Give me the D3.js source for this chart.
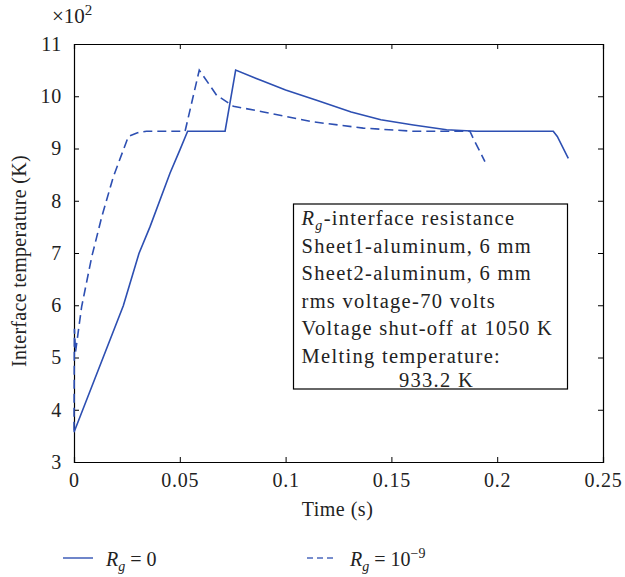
<!DOCTYPE html>
<html>
<head>
<meta charset="utf-8">
<script src="https://cdn.jsdelivr.net/npm/d3@7"></script>
<style>
  body { margin: 0; background: #fff; }
  svg { font-family: "Liberation Serif", "DejaVu Serif", serif; }
</style>
</head>
<body>
<svg id="chart" width="625" height="577"></svg>
<script>
// Data (temperature in units of 10^2 K)
const tSolid = [0, 0.0233, 0.0307, 0.0359, 0.0454, 0.05, 0.0537, 0.0714, 0.0764, 0.088, 0.1, 0.115, 0.131, 0.145, 0.1604, 0.1761, 0.19, 0.2265, 0.2284, 0.2336];
const tempSolid = [3.57, 5.99, 6.99, 7.5, 8.53, 8.97, 9.33, 9.33, 10.5, 10.31, 10.12, 9.92, 9.7, 9.55, 9.45, 9.36, 9.33, 9.33, 9.23, 8.81];

const tDashed = [0, 0.0002, 0.0007, 0.0036, 0.0084, 0.0131, 0.0186, 0.0233, 0.0257, 0.03, 0.0343, 0.0525, 0.0592, 0.0674, 0.0753, 0.0895, 0.113, 0.1367, 0.1604, 0.1871, 0.1887, 0.1942];
const tempDashed = [3.6, 5.55, 5.1, 5.97, 6.93, 7.69, 8.46, 8.97, 9.23, 9.3, 9.33, 9.33, 10.5, 10.02, 9.81, 9.7, 9.51, 9.39, 9.33, 9.33, 9.19, 8.75];

const xTicks = [0, 0.05, 0.1, 0.15, 0.2, 0.25];
const yTicks = [3, 4, 5, 6, 7, 8, 9, 10, 11];

const infoLines = ["Sheet1-aluminum, 6 mm", "Sheet2-aluminum, 6 mm",
                   "rms voltage-70 volts", "Voltage shut-off at 1050 K", "Melting temperature:"];
const infoLast = "933.2 K";

const svg = d3.select("#chart");
const margin = { top: 44, right: 22, bottom: 115, left: 74 };
const width = 625 - margin.left - margin.right;
const height = 577 - margin.top - margin.bottom;
const lineColor = "#2d4fb2";
const textColor = "#222";
const fs = 20;

const g = svg.append("g").attr("transform", `translate(${margin.left},${margin.top})`);

const x = d3.scaleLinear().domain([0, 0.25]).range([0, width]);
const y = d3.scaleLinear().domain([3, 11]).range([height, 0]);

// axes, ticks pointing inward on all four sides
const fmtX = d => d === 0 ? "0" : String(d);
g.append("g").attr("transform", `translate(0,${height})`)
    .call(d3.axisBottom(x).tickValues(xTicks).tickSize(-5).tickPadding(11).tickFormat(fmtX));
g.append("g").call(d3.axisTop(x).tickValues(xTicks).tickSize(-5).tickFormat(""));
g.append("g").call(d3.axisLeft(y).tickValues(yTicks).tickSize(-5).tickPadding(12));
g.append("g").attr("transform", `translate(${width},0)`)
    .call(d3.axisRight(y).tickValues(yTicks).tickSize(-5).tickFormat(""));

g.selectAll(".domain").attr("stroke", "#000").attr("stroke-width", 1.2);
g.selectAll(".tick line").attr("stroke", "#000");
g.selectAll(".tick text").attr("font-size", fs).attr("fill", textColor)
    .attr("letter-spacing", 0.8)
    .attr("font-family", "Liberation Serif, DejaVu Serif, serif");

// x10^2 multiplier
const mult = svg.append("text").attr("x", 52).attr("y", 23).attr("font-size", 21).attr("fill", textColor);
mult.append("tspan").text("×10");
mult.append("tspan").attr("font-size", 15).attr("dy", -8).text("2");

// axis titles
svg.append("text")
    .attr("x", margin.left + width / 2 - 1).attr("y", 516)
    .attr("text-anchor", "middle").attr("font-size", fs).attr("fill", textColor)
    .attr("letter-spacing", 0.5)
    .text("Time (s)");
svg.append("text")
    .attr("transform", "rotate(-90)")
    .attr("x", -261).attr("y", 26)
    .attr("text-anchor", "middle").attr("font-size", fs).attr("fill", textColor)
    .attr("letter-spacing", 0.3)
    .text("Interface temperature (K)");

// curves
const line = d3.line().x(d => x(d[0])).y(d => y(d[1]));
g.append("path")
    .datum(tSolid.map((t, i) => [t, tempSolid[i]]))
    .attr("d", line).attr("fill", "none")
    .attr("stroke", lineColor).attr("stroke-width", 1.6);
g.append("path")
    .datum(tDashed.map((t, i) => [t, tempDashed[i]]))
    .attr("d", line).attr("fill", "none")
    .attr("stroke", lineColor).attr("stroke-width", 1.6)
    .attr("stroke-dasharray", "9,5");

// info box
const boxFs = 20.5, boxLs = 1.3;
const box = g.append("g").attr("transform", "translate(219.5,160)");
box.append("rect")
    .attr("width", 274).attr("height", 185)
    .attr("fill", "#fff").attr("stroke", "#000").attr("stroke-width", 1.2);
const first = box.append("text").attr("x", 8).attr("y", 21)
    .attr("font-size", boxFs).attr("fill", textColor).attr("letter-spacing", boxLs);
first.append("tspan").attr("font-style", "italic").text("R");
first.append("tspan").attr("font-style", "italic").attr("font-size", 14).attr("dy", 5).text("g");
first.append("tspan").attr("dy", -5).text("-interface resistance");
infoLines.forEach((s, i) => {
    box.append("text").attr("x", 8).attr("y", 48.5 + i * 27.5)
        .attr("font-size", boxFs).attr("fill", textColor).attr("letter-spacing", boxLs)
        .text(s);
});
box.append("text").attr("x", 143).attr("y", 183)
    .attr("text-anchor", "middle").attr("font-size", boxFs).attr("fill", textColor)
    .attr("letter-spacing", boxLs).text(infoLast);

// legend
const legendData = [
    { x: 63, dash: null, sup: null, label: " = 0" },
    { x: 307, dash: "6,4", sup: "−9", label: " = 10" }
];
legendData.forEach(d => {
    svg.append("line")
        .attr("x1", d.x).attr("x2", d.x + 30).attr("y1", 558).attr("y2", 558)
        .attr("stroke", lineColor).attr("stroke-width", 1.6).attr("opacity", 0.85)
        .attr("stroke-dasharray", d.dash);
    const t = svg.append("text").attr("x", d.x + 43).attr("y", 566)
        .attr("font-size", fs).attr("fill", textColor);
    t.append("tspan").attr("font-style", "italic").text("R");
    t.append("tspan").attr("font-style", "italic").attr("font-size", 14).attr("dy", 5).text("g");
    t.append("tspan").attr("dy", -5).text(d.label);
    if (d.sup) t.append("tspan").attr("font-size", 14).attr("dy", -8).text(d.sup);
});
</script>
</body>
</html>
